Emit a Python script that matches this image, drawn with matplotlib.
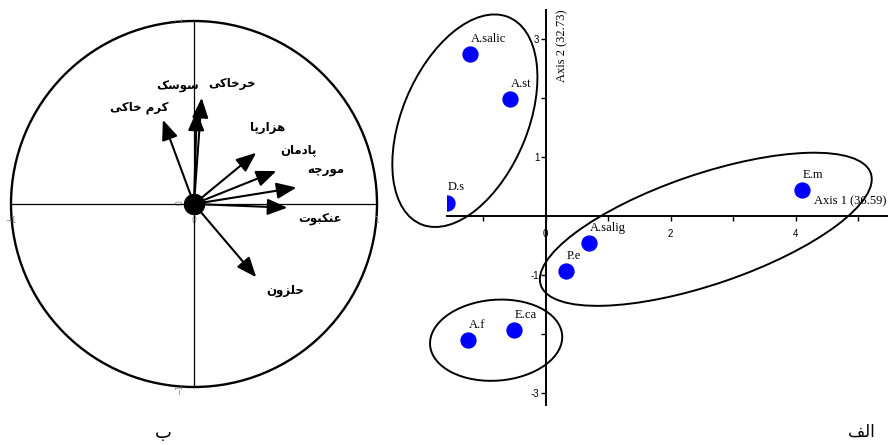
import matplotlib
matplotlib.use("Agg")
import matplotlib.pyplot as plt
from matplotlib.patches import Circle, Ellipse

# ---- data ----
# left panel: correlation circle (loadings of the soil fauna groups)
groups = ['کرم خاکی', 'سوسک', 'خرخاکی', 'هزارپا', 'پادمان', 'مورچه', 'عنکبوت', 'حلزون']
load_1 = [-0.17, 0.015, 0.042, 0.34, 0.45, 0.56, 0.51, 0.34]
load_2 = [0.46, 0.51, 0.58, 0.28, 0.18, 0.09, -0.02, -0.40]

# right panel: site scores
sites = ['A.salic', 'A.st', 'D.s', 'E.m', 'A.salig', 'P.e', 'E.ca', 'A.f']
score_1 = [-1.21, -0.57, -1.57, 4.11, 0.70, 0.32, -0.50, -1.24]
score_2 = [2.75, 1.98, 0.23, 0.44, -0.46, -0.93, -1.93, -2.10]

axis1_name = 'Axis 1 (36.59)'
axis2_name = 'Axis 2 (32.73)'

# cluster ellipses: centre x, centre y, width, height, angle
ell_x = [-1.29, 2.565, -0.79]
ell_y = [1.62, -0.22, -2.10]
ell_w = [3.78, 5.61, 2.12]
ell_h = [2.02, 1.86, 1.37]
ell_a = [69, 20, 5]

# where the group names sit in the circle
lab_x = [-0.30, -0.09, 0.21, 0.40, 0.57, 0.72, 0.69, 0.50]
lab_y = [0.53, 0.64, 0.66, 0.42, 0.30, 0.19, -0.08, -0.47]


# Persian letters -> presentation forms (iso, fin, ini, med); 2-tuples don't join forward
FORMS = {
    'ا': ('\uFE8D', '\uFE8E'),
    'ب': ('\uFE8F', '\uFE90', '\uFE91', '\uFE92'),
    'پ': ('\uFB56', '\uFB57', '\uFB58', '\uFB59'),
    'ت': ('\uFE95', '\uFE96', '\uFE97', '\uFE98'),
    'چ': ('\uFB7A', '\uFB7B', '\uFB7C', '\uFB7D'),
    'ح': ('\uFEA1', '\uFEA2', '\uFEA3', '\uFEA4'),
    'خ': ('\uFEA5', '\uFEA6', '\uFEA7', '\uFEA8'),
    'د': ('\uFEA9', '\uFEAA'),
    'ر': ('\uFEAD', '\uFEAE'),
    'ز': ('\uFEAF', '\uFEB0'),
    'س': ('\uFEB1', '\uFEB2', '\uFEB3', '\uFEB4'),
    'ع': ('\uFEC9', '\uFECA', '\uFECB', '\uFECC'),
    'ف': ('\uFED1', '\uFED2', '\uFED3', '\uFED4'),
    'ک': ('\uFB8E', '\uFB8F', '\uFB90', '\uFB91'),
    'ك': ('\uFB8E', '\uFB8F', '\uFB90', '\uFB91'),
    'ل': ('\uFEDD', '\uFEDE', '\uFEDF', '\uFEE0'),
    'م': ('\uFEE1', '\uFEE2', '\uFEE3', '\uFEE4'),
    'ن': ('\uFEE5', '\uFEE6', '\uFEE7', '\uFEE8'),
    'ه': ('\uFEE9', '\uFEEA', '\uFEEB', '\uFEEC'),
    'و': ('\uFEED', '\uFEEE'),
    'ی': ('\uFBFC', '\uFBFD', '\uFBFE', '\uFBFF'),
    'ي': ('\uFBFC', '\uFBFD', '\uFBFE', '\uFBFF'),
}


def shape(word):
    out = []
    for i, c in enumerate(word):
        if c not in FORMS:
            out.append(c)
            continue
        prev = word[i - 1] if i > 0 else None
        nxt = word[i + 1] if i + 1 < len(word) else None
        f = FORMS[c]
        jp = prev in FORMS and len(FORMS[prev]) == 4
        jn = nxt in FORMS and len(f) == 4
        if jp and jn:
            out.append(f[3])
        elif jp:
            out.append(f[1])
        elif jn:
            out.append(f[2])
        else:
            out.append(f[0])
    return ''.join(reversed(out))


W, H = 888, 445
fig = plt.figure(figsize=(W / 100, H / 100), dpi=100)

# ---- left: correlation circle ----
cx, cy, R = 194, 204, 183
ext = 1.08
axL = fig.add_axes([(cx - ext * R) / W, (H - cy - ext * R) / H, 2 * ext * R / W, 2 * ext * R / H])
axL.set_xlim(-ext, ext)
axL.set_ylim(-ext, ext)
for s in ['top', 'right']:
    axL.spines[s].set_visible(False)
for s in ['left', 'bottom']:
    axL.spines[s].set_position(('data', 0))
    axL.spines[s].set_bounds(-1, 1)
    axL.spines[s].set_linewidth(0.9)
axL.set_xticks([-1, 0, 1])
axL.set_yticks([-1, 0, 1])
axL.tick_params(direction='inout', length=4, width=0.6, labelsize=5.5,
                labelcolor='#808080', pad=7)
axL.tick_params(axis='y', labelrotation=90, pad=5)
axL.add_patch(Circle((0, 0), 1, fill=False, lw=1.7, color='black', clip_on=False))

for name, a, b, lx, ly in zip(groups, load_1, load_2, lab_x, lab_y):
    axL.annotate('', xy=(a, b), xytext=(0, 0),
                 arrowprops=dict(arrowstyle='-|>,head_length=1.1,head_width=0.45',
                                 mutation_scale=11, lw=1.5, color='black',
                                 shrinkA=0, shrinkB=0))
    axL.text(lx, ly, shape(name), ha='center', va='center', fontsize=8.5,
             fontweight='bold', family='DejaVu Sans')
axL.scatter([0], [0], s=210, color='black', zorder=5, clip_on=False)

# ---- right: site scores ----
x0, x1, y0, y1 = 447.3, 888, 10, 405
ox, oy, sx, sy = 545.5, 216.3, 62.5, 59.0
axR = fig.add_axes([x0 / W, (H - y1) / H, (x1 - x0) / W, (y1 - y0) / H])
axR.set_xlim((x0 - ox) / sx, (x1 - ox) / sx)
axR.set_ylim((oy - y1) / sy, (oy - y0) / sy)
for s in ['top', 'right']:
    axR.spines[s].set_visible(False)
for s in ['left', 'bottom']:
    axR.spines[s].set_position(('data', 0))
    axR.spines[s].set_linewidth(1.4)
axR.set_xticks([-1, 0, 1, 2, 3, 4, 5])
axR.set_xticklabels(['', '0', '', '2', '', '4', ''])
axR.set_yticks([-3, -2, -1, 1, 2, 3])
axR.set_yticklabels(['-3', '', '-1', '1', '', '3'])
axR.tick_params(direction='out', length=3.5, width=1, labelsize=7)
axR.tick_params(axis='x', pad=5.5)
axR.tick_params(axis='y', pad=1)
for lab in axR.get_xticklabels() + axR.get_yticklabels():
    lab.set_family('Liberation Sans')

for ex, ey, ew, eh, ea in zip(ell_x, ell_y, ell_w, ell_h, ell_a):
    axR.add_patch(Ellipse((ex, ey), ew, eh, angle=ea, fill=False, lw=1.4,
                          color='black', clip_on=False))

axR.scatter(score_1, score_2, s=115, color='#0000ff', zorder=3)
for name, a, b in zip(sites, score_1, score_2):
    axR.annotate(name, (a, b), xytext=(0.5, 11), textcoords='offset points',
                 ha='left', va='center', fontsize=9, family='Liberation Serif')

axR.annotate(axis2_name, xy=(0, axR.get_ylim()[1]), xytext=(12, 0),
             textcoords='offset points', rotation=90, ha='center', va='top',
             fontsize=9, family='Liberation Serif')
axR.annotate(axis1_name, xy=(axR.get_xlim()[1], 0), xytext=(-1, 10.5),
             textcoords='offset points', ha='right', va='center',
             fontsize=9, family='Liberation Serif')

# panel letters
fig.text(163 / W, 1 - 433 / H, shape('ب'), ha='center', va='center', fontsize=13,
         family='DejaVu Sans')
fig.text(861 / W, 1 - 432 / H, shape('الف'), ha='center', va='center', fontsize=12,
         family='DejaVu Sans')

fig.savefig('out.png', dpi=100)
